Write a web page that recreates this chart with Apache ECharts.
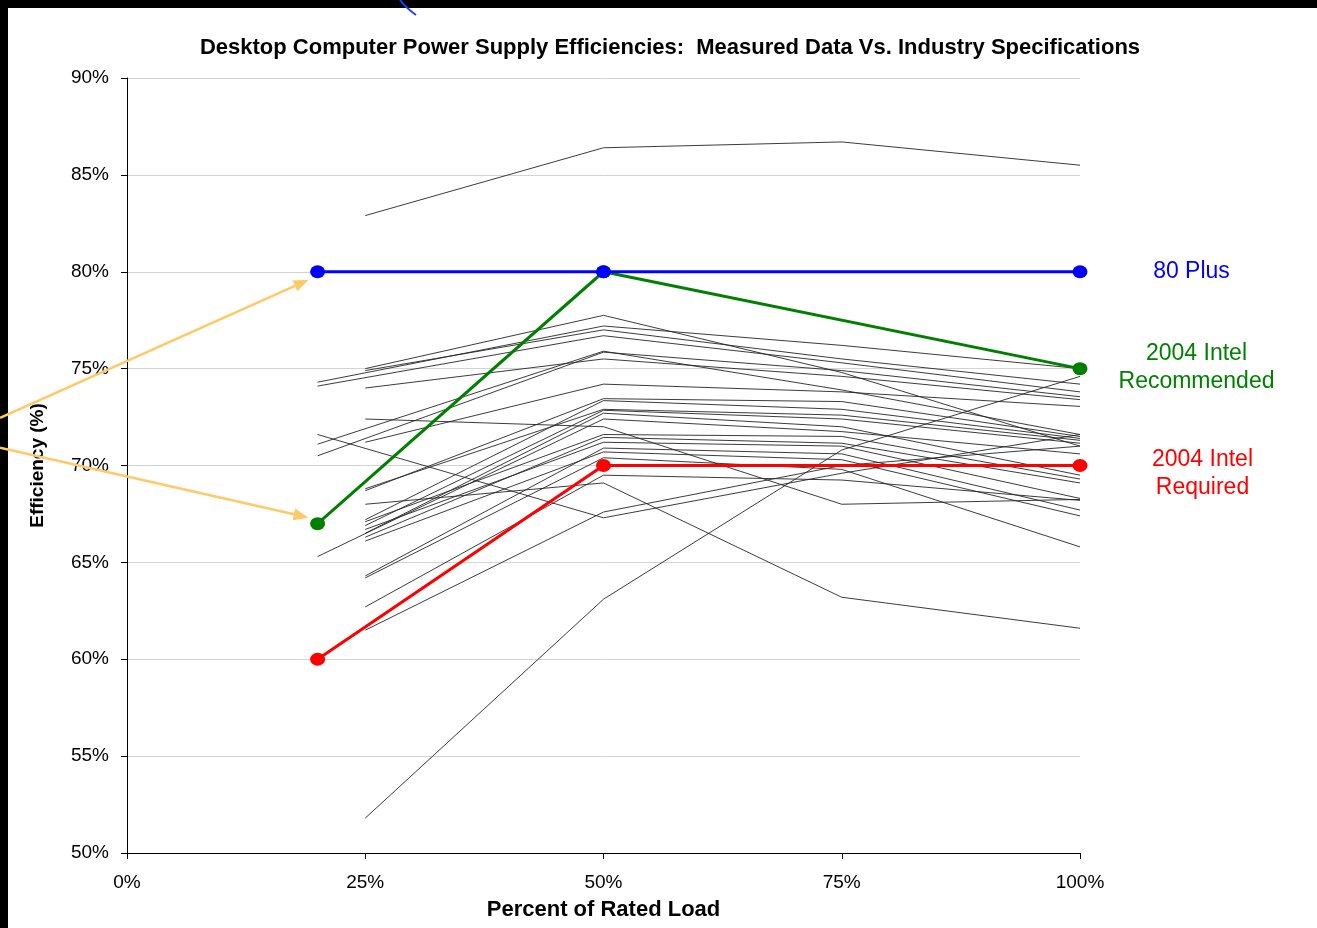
<!DOCTYPE html>
<html>
<head>
<meta charset="utf-8">
<script src="https://cdn.jsdelivr.net/npm/echarts@6/dist/echarts.min.js"></script>
<style>
  html, body { margin: 0; padding: 0; background: #fff; }
  #main { width: 1317px; height: 928px; }
</style>
</head>
<body>
<div id="main"></div>
<script>
  // Measured power supplies: first point is at 20% or 25% load
  var measuredStart = [25, 25, 20, 25, 20, 20, 20, 25, 25, 25, 25, 25, 25, 25, 20, 25, 25, 25, 25, 25, 25, 25, 25, 25, 25, 20, 25];
  var measuredFirst = [82.9, 75.0, 74.3, 74.9, 74.1, 71.1, 70.5, 74.0, 71.2, 68.7, 67.2, 68.8, 66.9, 66.5, 65.3, 72.4, 67.1, 66.3, 66.7, 64.3, 66.1, 64.2, 62.7, 68.0, 61.5, 71.6, 51.8];
  var measured50 = [86.4, 77.75, 77.2, 77.0, 76.7, 75.9, 75.85, 75.5, 74.2, 73.45, 73.35, 72.9, 72.85, 72.7, 72.4, 72.0, 71.6, 71.45, 71.2, 70.9, 70.7, 70.4, 69.5, 69.1, 67.6, 67.3, 63.1];
  var measured75 = [86.7, 74.8, 76.2, 75.5, 75.3, 73.9, 74.9, 74.6, 73.8, 73.3, 72.9, 72.6, 72.4, 72.0, 71.75, 68.0, 71.5, 71.15, 71.0, 70.6, 70.3, 69.8, 69.25, 63.2, 70.0, 69.6, 70.8];
  var measured100 = [85.5, 71.0, 75.0, 74.2, 73.8, 71.6, 73.55, 73.4, 73.05, 71.5, 71.4, 71.3, 71.15, 69.5, 70.6, 68.25, 69.3, 69.1, 68.3, 67.7, 67.4, 65.8, 68.2, 61.6, 71.0, 71.6, 74.6];

  // Industry specifications
  var specLoads = [20, 50, 100];
  var plus80 = [80, 80, 80];
  var intelRecommended = [67, 80, 75];
  var intelRequired = [60, 70, 70];

  var xTicks = [0, 25, 50, 75, 100];
  var yTicks = [50, 55, 60, 65, 70, 75, 80, 85, 90];

  var FONT = '"Liberation Sans", Arial, sans-serif';
  var myChart = echarts.init(document.getElementById('main'));

  function specSeries(name, values, color, labelText, labelOffset) {
    return {
      type: 'line',
      name: name,
      data: specLoads.map(function (x, i) {
        var point = [x, values[i]];
        if (i === specLoads.length - 1) {
          return {
            value: point,
            label: {
              show: true,
              formatter: labelText,
              position: [7 + labelOffset[0], 6 + labelOffset[1]],
              align: 'center',
              verticalAlign: 'middle',
              color: color,
              fontFamily: FONT,
              fontSize: 23,
              lineHeight: 28
            }
          };
        }
        return point;
      }),
      symbol: 'circle',
      symbolSize: [15, 13],
      itemStyle: { color: color },
      lineStyle: { color: color, width: 3 },
      z: 5,
      silent: true
    };
  }

  var series = [];
  measuredStart.forEach(function (start, i) {
    series.push({
      type: 'line',
      data: [[start, measuredFirst[i]], [50, measured50[i]], [75, measured75[i]], [100, measured100[i]]],
      symbol: 'none',
      lineStyle: { color: '#262626', width: 0.9 },
      z: 2,
      silent: true
    });
  });
  series.push(specSeries('2004 Intel Required', intelRequired, '#ff0000', '2004 Intel\nRequired', [123, 9]));
  series.push(specSeries('2004 Intel Recommended', intelRecommended, '#008000', '2004 Intel\nRecommended', [117, 0]));
  series.push(specSeries('80 Plus', plus80, '#0000ff', '80 Plus', [112, 0]));

  var option = {
    backgroundColor: '#fff',
    animation: false,
    title: {
      text: 'Desktop Computer Power Supply Efficiencies:  Measured Data Vs. Industry Specifications',
      left: 665,
      textAlign: 'center',
      top: 32,
      textStyle: { fontFamily: FONT, fontWeight: 'bold', fontSize: 22, color: '#000' }
    },
    grid: { left: 127, right: 237, top: 78, bottom: 75 },
    xAxis: {
      type: 'value',
      min: xTicks[0],
      max: xTicks[xTicks.length - 1],
      interval: 25,
      name: 'Percent of Rated Load',
      nameLocation: 'middle',
      nameGap: 46,
      nameTextStyle: { fontFamily: FONT, fontWeight: 'bold', fontSize: 22, color: '#000' },
      axisLine: { lineStyle: { color: '#000', width: 1 } },
      axisTick: { length: 6, lineStyle: { color: '#000' } },
      axisLabel: { formatter: '{value}%', fontFamily: FONT, fontSize: 19, color: '#000', margin: 20 },
      splitLine: { show: false }
    },
    yAxis: {
      type: 'value',
      min: yTicks[0],
      max: yTicks[yTicks.length - 1],
      interval: 5,
      name: 'Efficiency (%)',
      nameLocation: 'middle',
      nameGap: 80,
      nameTextStyle: { fontFamily: FONT, fontWeight: 'bold', fontSize: 19, color: '#000' },
      axisLine: { show: true, lineStyle: { color: '#000', width: 1 } },
      axisTick: { show: true, length: 6, lineStyle: { color: '#000' } },
      axisLabel: { formatter: '{value}%', fontFamily: FONT, fontSize: 19, color: '#000', margin: 18 },
      splitLine: { lineStyle: { color: '#d4d4d4', width: 1 } }
    },
    series: series
  };

  myChart.setOption(option);

  // frame strips, arrows pointing at the 20% spec points
  function arrow(from, to, color) {
    var dx = to[0] - from[0], dy = to[1] - from[1];
    var len = Math.sqrt(dx * dx + dy * dy);
    var ux = dx / len, uy = dy / len;
    var headLen = 15, headW = 6;
    var bx = to[0] - ux * headLen, by = to[1] - uy * headLen;
    return [
      {
        type: 'line', z: 20,
        shape: { x1: from[0], y1: from[1], x2: bx, y2: by },
        style: { stroke: color, lineWidth: 2.5 }
      },
      {
        type: 'polygon', z: 20,
        shape: { points: [[to[0], to[1]], [bx - uy * headW, by + ux * headW], [bx + uy * headW, by - ux * headW]] },
        style: { fill: color }
      }
    ];
  }

  var p80 = myChart.convertToPixel({ gridIndex: 0 }, [specLoads[0], plus80[0]]);
  var p67 = myChart.convertToPixel({ gridIndex: 0 }, [specLoads[0], intelRecommended[0]]);
  var arrowColor = '#ffc966';
  var graphics = [
    { type: 'rect', z: 15, shape: { x: 0, y: 0, width: 1317, height: 8 }, style: { fill: '#000' } },
    { type: 'rect', z: 15, shape: { x: 0, y: 0, width: 8, height: 928 }, style: { fill: '#000' } },
    {
      type: 'bezierCurve', z: 16,
      shape: { x1: 400, y1: 0, cpx1: 406, cpy1: 8, x2: 416, y2: 15 },
      style: { stroke: '#2040ff', lineWidth: 2, fill: null }
    }
  ];
  graphics = graphics
    .concat(arrow([0, p80[1] + 146], [p80[0] - 9, p80[1] + 8], arrowColor))
    .concat(arrow([0, p67[1] - 76], [p67[0] - 9, p67[1] - 6], arrowColor));

  myChart.setOption({ graphic: graphics });
</script>
</body>
</html>
